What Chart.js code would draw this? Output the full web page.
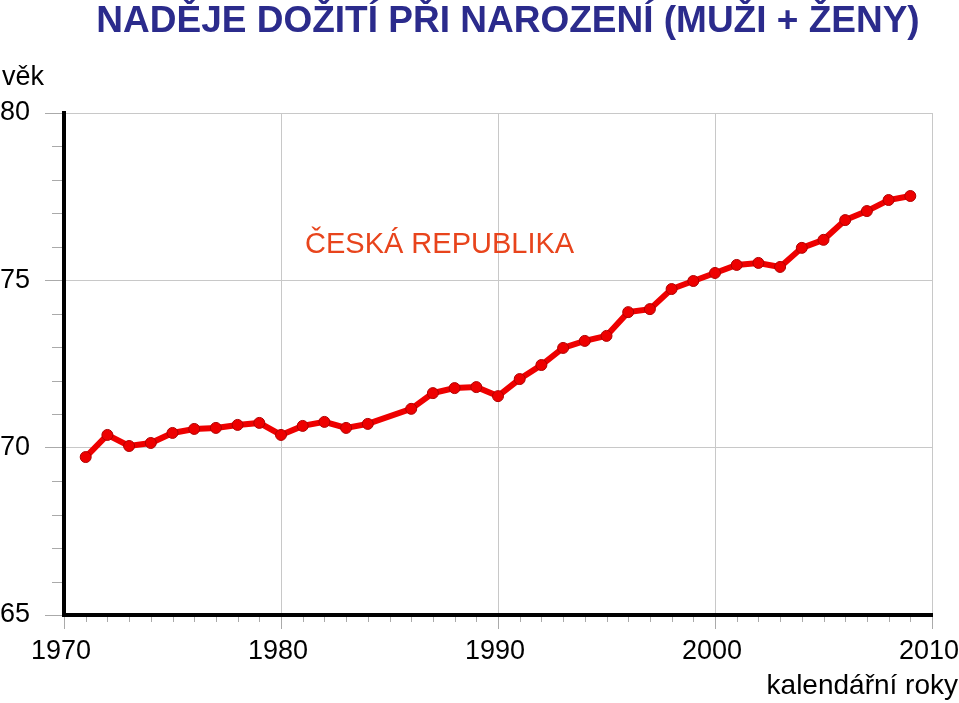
<!DOCTYPE html>
<html>
<head>
<meta charset="utf-8">
<script src="https://cdn.jsdelivr.net/npm/chart.js@4"></script>
<style>
  html, body { margin: 0; padding: 0; background: #fff; }
  #wrap { width: 959px; height: 703px; position: relative; }
</style>
</head>
<body>
<div id="wrap"><canvas id="myChart" width="959" height="703"></canvas></div>
<script>
// life expectancy at birth, Czech Republic (1985 not in the source chart)
const years = [1971, 1972, 1973, 1974, 1975, 1976, 1977, 1978, 1979, 1980,
  1981, 1982, 1983, 1984, 1986, 1987, 1988, 1989, 1990, 1991, 1992, 1993,
  1994, 1995, 1996, 1997, 1998, 1999, 2000, 2001, 2002, 2003, 2004, 2005,
  2006, 2007, 2008, 2009];
const lifeExpectancy = [69.72, 70.38, 70.05, 70.14, 70.44, 70.56, 70.59, 70.68,
  70.74, 70.38, 70.65, 70.77, 70.59, 70.71, 71.16, 71.63, 71.78, 71.81, 71.54,
  72.05, 72.47, 72.98, 73.19, 73.34, 74.05, 74.14, 74.74, 74.98, 75.22, 75.46,
  75.52, 75.40, 75.97, 76.21, 76.80, 77.07, 77.40, 77.52];
const xTicks = [1970, 1980, 1990, 2000, 2010];
const yTicks = [65, 70, 75, 80];

const chartTitle = "NADĚJE DOŽITÍ PŘI NAROZENÍ (MUŽI + ŽENY)";
const yTitle = "věk";
const xTitle = "kalendářní roky";
const seriesLabel = "ČESKÁ REPUBLIKA";

const points = years.map((year, i) => ({ x: year, y: lifeExpectancy[i] }));
const FONT = "'Liberation Sans', Arial, sans-serif";

// minor ticks and free text
const decorPlugin = {
  id: "decor",
  beforeDatasetsDraw(chart) {
    const ctx = chart.ctx;
    const x = chart.scales.x;
    const y = chart.scales.y;
    const area = chart.chartArea;
    ctx.save();
    ctx.strokeStyle = "#aaaaaa";
    ctx.lineWidth = 1;
    ctx.beginPath();
    for (let v = y.min; v <= y.max; v++) {
      if (v % 5 === 0) continue;
      const py = Math.round(y.getPixelForValue(v)) + 0.5;
      ctx.moveTo(area.left - 12, py);
      ctx.lineTo(area.left - 2, py);
    }
    for (let v = x.min; v <= x.max; v++) {
      if (v % 10 === 0) continue;
      const px = Math.round(x.getPixelForValue(v)) + 0.5;
      ctx.moveTo(px, area.bottom + 2);
      ctx.lineTo(px, area.bottom + 7);
    }
    ctx.stroke();
    ctx.restore();
  },
  afterDraw(chart) {
    const ctx = chart.ctx;
    ctx.save();
    ctx.textBaseline = "middle";
    ctx.fillStyle = "#2b2b8c";
    ctx.font = "bold 37px " + FONT;
    ctx.textAlign = "center";
    ctx.fillText(chartTitle, 508, 22);

    ctx.fillStyle = "#000";
    ctx.font = "27px " + FONT;
    ctx.textAlign = "left";
    ctx.fillText(yTitle, 2, 78);
    ctx.font = "28px " + FONT;
    ctx.textAlign = "right";
    ctx.fillText(xTitle, 958, 686);

    ctx.fillStyle = "#e8441c";
    ctx.font = "29px " + FONT;
    ctx.textAlign = "left";
    ctx.fillText(seriesLabel, 305, 245);
    ctx.restore();
  }
};

const ctx = document.getElementById("myChart").getContext("2d");
new Chart(ctx, {
  type: "line",
  data: {
    datasets: [
      {
        label: seriesLabel,
        data: points,
        borderColor: "#ee0000",
        borderWidth: 6,
        backgroundColor: "#ee0000",
        pointRadius: 5.5,
        pointBackgroundColor: "#ee0000",
        pointBorderColor: "#b00000",
        pointBorderWidth: 1,
        tension: 0,
        clip: false,
      },
    ],
  },
  options: {
    responsive: false,
    animation: false,
    devicePixelRatio: 1,
    layout: { padding: { top: 113, right: 27, left: 0, bottom: 0 } },
    plugins: {
      legend: { display: false },
      tooltip: { enabled: false },
    },
    scales: {
      x: {
        type: "linear",
        min: 1970,
        max: 2010,
        afterBuildTicks: (scale) => {
          scale.ticks = xTicks.map((v) => ({ value: v }));
        },
        afterFit: (scale) => {
          scale.height = 88;
          scale.paddingLeft = 0;
          scale.paddingRight = 0;
        },
        grid: {
          color: "#c8c8c8",
          lineWidth: 1,
          tickLength: 14,
          tickColor: "#aaaaaa",
        },
        border: { color: "#000", width: 4 },
        ticks: {
          color: "#000",
          padding: 6,
          maxRotation: 0,
          labelOffset: -3,
          callback: (v) => String(v),
          font: { family: FONT, size: 27 },
        },
      },
      y: {
        min: 65,
        max: 80,
        afterBuildTicks: (scale) => {
          scale.ticks = yTicks.map((v) => ({ value: v }));
        },
        afterFit: (scale) => {
          scale.width = 64;
        },
        grid: {
          color: "#c8c8c8",
          lineWidth: 1,
          tickLength: 19,
          tickColor: "#aaaaaa",
        },
        border: { color: "#000", width: 4 },
        ticks: {
          color: "#000",
          padding: 15,
          callback: (v) => String(v),
          font: { family: FONT, size: 27 },
        },
      },
    },
  },
  plugins: [decorPlugin],
});
</script>
</body>
</html>
